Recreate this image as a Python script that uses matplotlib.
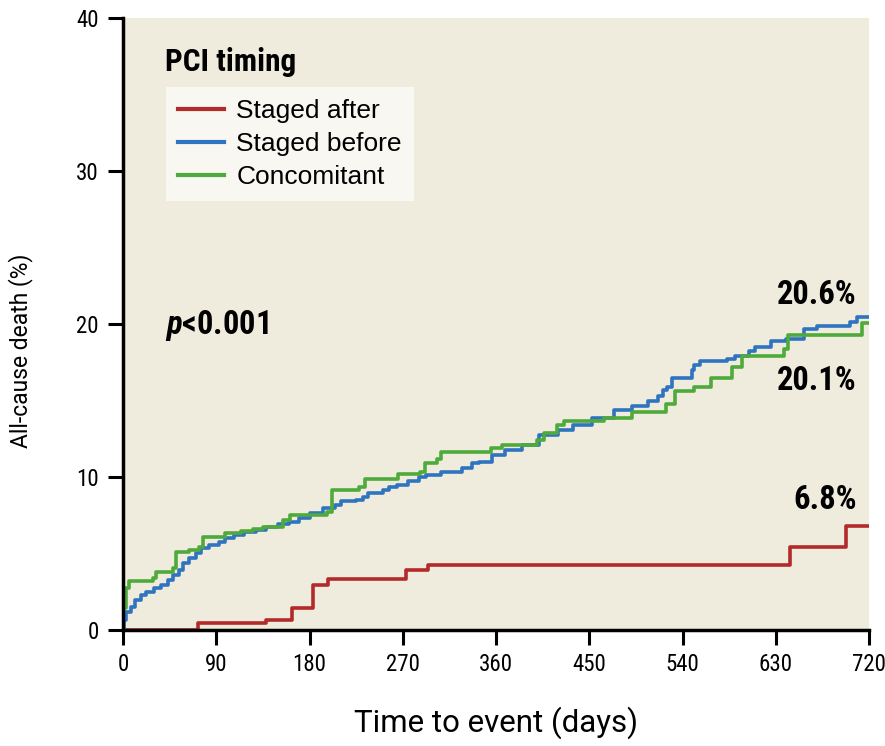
import matplotlib
matplotlib.use("Agg")
import matplotlib.pyplot as plt
from matplotlib import font_manager

# Kaplan-Meier style cumulative all-cause death (%)
red_days = [0, 72, 138, 163, 183, 198, 273, 294, 644, 698, 720]
red_vals = [0, 0.44, 0.65, 1.46, 2.94, 3.3, 3.9, 4.25, 5.45, 6.8, 6.8]

blue_days = [0, 0.5, 3, 8, 12, 17, 22, 30, 37, 43, 48, 54, 58, 64, 70, 75, 83,
             93, 98, 107, 117, 128, 138, 150, 160, 170, 180, 193, 205, 210,
             225, 232, 236, 251, 257, 264, 275, 286, 292, 307, 327, 337, 344,
             356, 369, 385, 401, 420, 434, 453, 474, 491, 507, 516, 521, 525,
             530, 549, 551, 557, 583, 591, 604, 610, 625, 640, 657, 670, 702,
             708, 720]
blue_vals = [0, 0.65, 1.2, 1.52, 1.96, 2.29, 2.5, 2.72, 2.94, 3.27, 3.6, 3.92,
             4.36, 4.68, 5.0, 5.34, 5.56, 5.77, 6.0, 6.2, 6.4, 6.55, 6.75, 6.9,
             7.05, 7.3, 7.63, 7.95, 8.17, 8.4, 8.5, 8.7, 8.97, 9.15, 9.37, 9.5,
             9.76, 9.98, 10.13, 10.35, 10.6, 10.9, 11.0, 11.44, 11.76, 12.1,
             12.75, 13.07, 13.4, 13.84, 14.4, 14.65, 14.95, 15.3, 15.7, 15.9,
             16.45, 17.0, 17.3, 17.6, 17.7, 17.9, 18.2, 18.5, 18.9, 19.0,
             19.65, 19.87, 20.15, 20.45, 20.45]

green_days = [0, 0.3, 3, 6, 29, 32, 48, 51, 64, 73, 77, 98, 114, 125, 135, 154,
              161, 197, 202, 228, 234, 265, 287, 291, 303, 307, 355, 366, 400,
              406, 419, 426, 464, 491, 524, 533, 551, 567, 588, 597, 638, 642,
              713, 720]
green_vals = [0, 1.42, 2.72, 3.2, 3.4, 3.8, 4.03, 5.12, 5.23, 5.45, 6.1, 6.32,
              6.45, 6.6, 6.7, 7.2, 7.5, 7.7, 9.15, 9.37, 9.9, 10.17, 10.35,
              10.94, 11.2, 11.6, 11.87, 12.1, 12.4, 12.9, 13.4, 13.68, 13.84,
              14.27, 14.8, 15.6, 15.9, 16.5, 17.2, 17.9, 18.35, 19.28, 20.05,
              20.05]

labels = ["Staged after", "Staged before", "Concomitant"]
end_labels = ["6.8%", "20.6%", "20.1%"]
x_ticks = [0, 90, 180, 270, 360, 450, 540, 630, 720]
y_ticks = [0, 10, 20, 30, 40]

# pick a narrow face if one is around, else fall back
names = {f.name for f in font_manager.fontManager.ttflist}
narrow_first = "DejaVu Sans"
for cand in ["Liberation Sans Narrow", "Roboto Condensed", "Open Sans Condensed",
             "Noto Sans Condensed", "DejaVu Sans Condensed"]:
    if cand in names:
        narrow_first = cand
        break
narrow = [narrow_first, "DejaVu Sans"]
regular = ["Liberation Sans", "DejaVu Sans"]
roboto = ["Roboto", "DejaVu Sans"]
plt.rcParams["mathtext.fontset"] = "custom"
plt.rcParams["mathtext.it"] = narrow_first + ":italic:bold"

fig = plt.figure(figsize=(8.85, 7.46), dpi=100)
ax = fig.add_axes([0.139, 0.1555, 0.843, 0.8205])
ax.set_facecolor("#f0ecdd")

ax.step(red_days, red_vals, where="post", color="#b22a2a", lw=2.6, label=labels[0])
ax.step(blue_days, blue_vals, where="post", color="#2f74c0", lw=2.6, label=labels[1])
ax.step(green_days, green_vals, where="post", color="#4eaa3a", lw=2.6, label=labels[2])

ax.set_xlim(0, 720)
ax.set_ylim(0, 40)
ax.set_xticks(x_ticks)
ax.set_yticks(y_ticks)
for s in ["top", "right"]:
    ax.spines[s].set_visible(False)
for s in ["left", "bottom"]:
    ax.spines[s].set_linewidth(2.5)
ax.tick_params(width=2.2, length=10.5, direction="out")
ax.tick_params(axis="y", pad=7)
ax.tick_params(axis="x", pad=6)
for t in ax.get_xticklabels() + ax.get_yticklabels():
    t.set_family(narrow)
    t.set_stretch("condensed")
    t.set_fontsize(16.5)

ax.set_xlabel("Time to event (days)", family=roboto, fontsize=22.5, labelpad=22)
ax.set_ylabel("All-cause death (%)", family=roboto, fontsize=16.5)
ax.yaxis.set_label_coords(-0.12, 0.456)

txt = dict(family=narrow, stretch="condensed", fontweight="bold", va="center")
ax.text(41, 37.1, "PCI timing", ha="left", fontsize=22.5, **txt)
ax.text(41, 19.9, r"$p$<0.001", ha="left", fontsize=23.5, **txt)
ax.text(708, 21.9, end_labels[1], ha="right", fontsize=23.5, **txt)
ax.text(708, 16.3, end_labels[2], ha="right", fontsize=23.5, **txt)
ax.text(708, 8.5, end_labels[0], ha="right", fontsize=23.5, **txt)

leg = ax.legend(loc="upper left", bbox_to_anchor=(0.058, 0.887), borderaxespad=0,
                frameon=True, fancybox=False, facecolor="#f9f7f1", edgecolor="none",
                framealpha=1, handlelength=1.75, handletextpad=0.45, labelspacing=0.35,
                borderpad=0.45, prop={"family": regular, "size": 19})
for line in leg.get_lines():
    line.set_linewidth(3)

fig.savefig("out.png", dpi=100)
